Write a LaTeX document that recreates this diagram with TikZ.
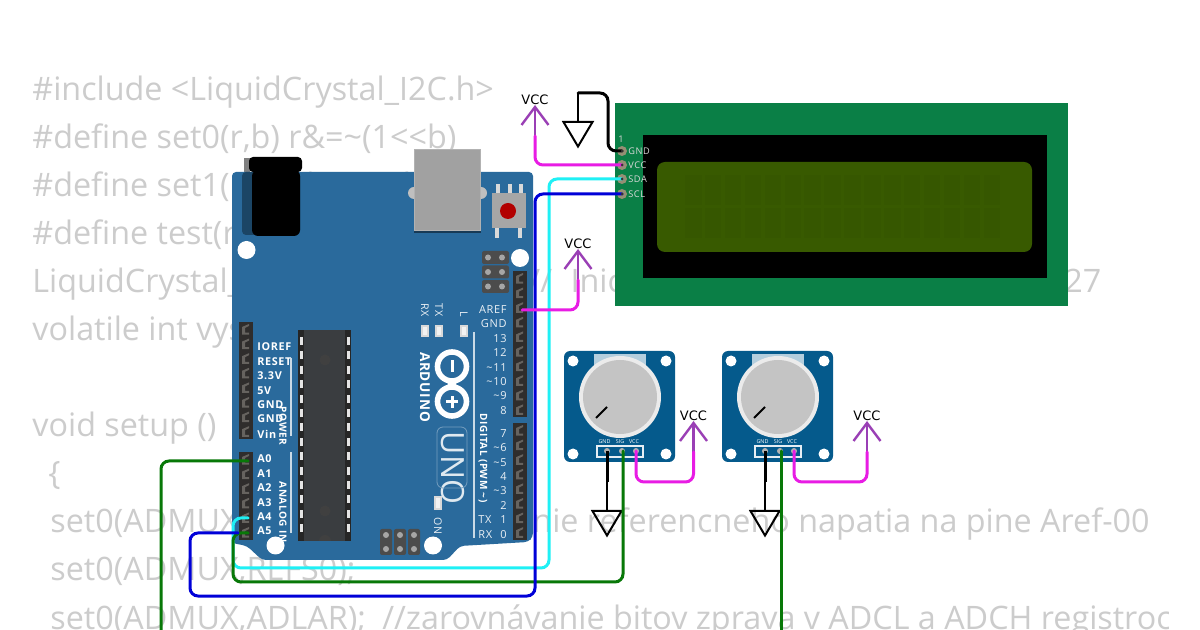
\documentclass[tikz,border=0pt]{standalone}
\usepackage{fontspec}
\newfontfamily\codefont{Open Sans}
\newfontfamily\pinfont[LetterSpace=6]{Open Sans}
\newfontfamily\vccfont{DejaVu Sans}
\definecolor{boardblue}{HTML}{2A6A9C}
\definecolor{potblue}{HTML}{055A8C}
\definecolor{lcdgreen}{HTML}{0A7F46}
\definecolor{lcdolive}{HTML}{385A00}
\definecolor{lcdcell}{HTML}{365700}
\definecolor{chipgrey}{HTML}{3A3D40}
\definecolor{headgrey}{HTML}{2F2D2C}
\definecolor{pinlight}{HTML}{66635F}
\definecolor{padtan}{HTML}{948F74}
\definecolor{wiremag}{HTML}{E81CE4}
\definecolor{wirecyan}{HTML}{1FF0F5}
\definecolor{wireblue}{HTML}{0000D8}
\definecolor{wiregreen}{HTML}{087808}
\definecolor{symbpurple}{HTML}{9A3FB5}
\tikzset{
	code/.style={anchor=base west,inner sep=0pt,text=black!20,font=\codefont\fontsize{16.15}{18}\selectfont},
	pinbold/.style={anchor=west,inner sep=0pt,text=white,font=\pinfont\bfseries\fontsize{5.4}{6}\selectfont},
	pinnum/.style={anchor=east,inner sep=0pt,text=white!90!boardblue,font=\pinfont\fontsize{5.5}{6}\selectfont},
	vertbold/.style={inner sep=0pt,rotate=-90,text=white,font=\pinfont\bfseries\fontsize{5}{6}\selectfont},
	vertthin/.style={inner sep=0pt,rotate=-90,text=white!90!boardblue,font=\pinfont\fontsize{5.3}{6}\selectfont},
	lcdpin/.style={anchor=west,inner sep=0pt,text=white!85!black,font=\pinfont\fontsize{4.6}{5}\selectfont},
	potpin/.style={inner sep=0pt,text=white,font=\codefont\fontsize{2.7}{3}\selectfont},
	vcctext/.style={inner sep=0pt,text=black,font=\vccfont\fontsize{6.5}{8}\selectfont},
	wire/.style={line width=1.5pt,rounded corners=4pt,line cap=round},
	symb/.style={line width=1.2pt,symbpurple,line join=miter},
	gndsym/.style={line width=1pt,black,line join=miter},
	led/.style={fill=white!85!black,draw=none}
}
\begin{document}
\begin{tikzpicture}[x=0.5pt,y=-0.5pt]
	\useasboundingbox (0,0) rectangle (1200,630);
	\fill [white] (0,0) rectangle (1200,630);

	% program text behind everything
	\begin{scope}
		\clip (0,0) rectangle (1168,630);
		\node [code] (L1) at (32,101) {\#include <LiquidCrystal\_I2C.h>};
		\node [code] (L2) at (32,149) {\#define set0(r,b) r\&=\textasciitilde(1<<b)};
		\node [code] (L3) at (32,197) {\#define set1(r,b) r|=(1<<b)};
		\node [code] (L4) at (32,245) {\#define test(r,b) r\&(1<<b)};
		\node [code] (L5) at (32,293) {LiquidCrystal\_I2C lcd(0x27,16,2);\hspace{3.5pt} //\hspace{5pt} Inic};
		\node [code] (L5b) at (1064,293) {27};
		\node [code] (L6) at (32,341) {volatile int vysledok;};
		\node [code] (L7) at (32,437) {void setup ()};
		\node [code] (L8) at (48,485) {\{};
		\node [code] (L9) at (50,533) {set0(ADMUX,REFS1);\hspace{14pt} //nastavenie referencneho napatia na pine Aref-00};
		\node [code] (L10) at (50,581) {set0(ADMUX,REFS0);};
		\node [code] (L11) at (50,629) {set0(ADMUX,ADLAR);\hspace{4pt} //zarovnávanie bitov zprava v ADCL a ADCH registroch};
	\end{scope}

	% arduino board
	\fill [gray] (244,158) rectangle (250,172);
	\fill [boardblue,rounded corners=2pt] (232,172) -- (533,172) -- (533,537) -- (528,542) -- (460,546) -- (447,560) -- (262,560) -- (247,546) -- (232,543) -- cycle;
	\fill [black!35!boardblue,rounded corners=2pt] (242,172) rectangle (300,235);
	\fill [black,rounded corners=2pt] (249,157) rectangle (302,172);
	\fill [black,rounded corners=3pt] (252,170) rectangle (300,236);

	\fill [black!25] (414,193) circle (6);
	\fill [black!25] (481,193) circle (6);
	\fill [black!45!boardblue] (414,230) rectangle (481,233);
	\fill [black!30] (414,149) rectangle (481,231);
	\fill [black!37] (415,150) rectangle (480,230);

	\foreach \lx in {498,509.5,521} \fill [white!85!black] (\lx-2,184) rectangle (\lx+2,193);
	\foreach \lx in {497,520} \fill [white!85!black] (\lx-2,228) rectangle (\lx+2,238);
	\fill [black!35] (492,193) rectangle (526,228);
	\fill [red!70!black] (508,211) circle (8);

	\foreach \hx/\hy in {246.5/250,520/258,275.5/545.5,433/545.5} \fill [white] (\hx,\hy) circle (9);

	% icsp pads
	\foreach \iy in {257.5,272,286.5} {
		\fill [black!70,rounded corners=1pt] (482,\iy-6.5) rectangle (509,\iy+6.5);
		\foreach \ix in {488,502} \fill [black!35] (\ix,\iy) circle (3);
	}
	\foreach \ix in {386,400,414} {
		\fill [black!70,rounded corners=1pt] (\ix-6,529) rectangle (\ix+6,555);
		\foreach \iy in {535,549} \fill [black!35] (\ix,\iy) circle (3);
	}

	% pin headers
	\foreach \hx/\hy/\hn in {513/271/10,513/423/8,239/322/8,239/452/6} {
		\fill [headgrey] (\hx,\hy) rectangle (\hx+14,\hy+\hn*14.6);
		\foreach \pn in {1,...,\hn} {
			\fill [pinlight] (\hx+3,\hy+\pn*14.6-9.6) -- (\hx+10,\hy+\pn*14.6-12.6) -- (\hx+10,\hy+\pn*14.6-10.6) -- (\hx+6,\hy+\pn*14.6-8.6) -- (\hx+6,\hy+\pn*14.6-4) -- (\hx+10,\hy+\pn*14.6-4) -- (\hx+10,\hy+\pn*14.6-2) -- (\hx+3,\hy+\pn*14.6-2) -- cycle;
		}
	}

	% chip
	\fill [black!85] (298,330) rectangle (351,541);
	\fill [chipgrey] (304,330) rectangle (345,541);
	\foreach \pn in {0,...,13} {
		\fill [white!90!black] (299.5,341+\pn*14.4-4) rectangle (302.5,341+\pn*14.4+4);
		\fill [white!90!black] (346.5,341+\pn*14.4-4) rectangle (349.5,341+\pn*14.4+4);
	}
	\fill [black!75] (325,360) circle (5.5);
	\fill [black!75] (325,511) circle (5.5);
	\fill [black!75] (319,541) arc [start angle=180,end angle=360,radius=6] -- cycle;

	% leds
	\foreach \lx in {425,439,464} {
		\fill [led] (\lx-4,325) rectangle (\lx+4,337);
		\fill [white!95!black] (\lx-2,327) rectangle (\lx+2,335);
	}
	\fill [led] (434,496) rectangle (442,510);
	\fill [white!95!black] (436,498) rectangle (440,508);

	% printing on the board
	\foreach \tn/\tx/\tl/\ty in {a/257/IOREF/347,b/257/RESET/362,c/257/3.3V/376,d/257/5V/391,e/257/GND/405,f/257/GND/419,g/257/Vin/434,h/257/A0/459,i/257/A1/474,j/257/A2/488,k/257/A3/503,l/257/A4/517,m/257/A5/531}
		\node [pinbold] (lab\tn) at (\tx,\ty) {\tl};
	\foreach \tn/\tl/\ty in {a/AREF/310,b/GND/324,c/13/339,d/12/353,e/\textasciitilde11/368,f/\textasciitilde10/382,g/\textasciitilde9/396,h/8/411,i/7/434,j/\textasciitilde6/448,k/\textasciitilde5/463,l/4/477,m/\textasciitilde3/491,n/2/506,o/1/520,p/0/535}
		\node [pinnum] (num\tn) at (507,\ty) {\tl};
	\node [pinnum,anchor=west] (labTX) at (478,520) {TX};
	\node [pinnum,anchor=west] (labRX) at (478,535) {RX};
	\node [vertthin] (ledRX) at (425,310) {RX};
	\node [vertthin] (ledTX) at (439,310) {TX};
	\node [vertthin] (ledL) at (464,314) {L};
	\node [vertthin] (ledON) at (438,526) {ON};
	\node [vertbold] (labPOWER) at (283,426) {POWER};
	\node [vertbold] (labANALOG) at (283,512) {ANALOG IN};
	\node [vertbold] (labDIGITAL) at (483,458) {DIGITAL (PWM \textasciitilde)};
	\node [vertbold,font=\pinfont\bfseries\fontsize{6.8}{8}\selectfont] (labARDUINO) at (425,387) {ARDUINO};
	\node [vertthin,font=\codefont\fontsize{16}{18}\selectfont,text=white!85!boardblue] (labUNO) at (453,468) {UNO};
	\draw [white!35!boardblue,line width=0.4pt,rounded corners=3pt] (437,427) rectangle (467,488);
	\draw [white!75!boardblue,line width=0.6pt] (291,358) -- (291,436) (291,452) -- (291,533) (474,332) -- (474,538);

	% logo
	\draw [white,line width=2.8pt] (452,366.5) circle (14.5);
	\draw [white,line width=2.8pt] (452,401.5) circle (14.5);
	\fill [white] (445,379) -- (459,379) -- (456,384) -- (459,389) -- (445,389) -- (448,384) -- cycle;
	\fill [white] (450.5,360) rectangle (453.5,372);
	\fill [white] (450.5,396) rectangle (453.5,408);
	\fill [white] (446,400) rectangle (458,403);

	% potentiometers
	\foreach \px/\pa in {0/a,158/b} {
		\begin{scope}[shift={(\px,0)}]
			\fill [potblue,rounded corners=3pt] (564,351) rectangle (675,462);
			\fill [white!70!potblue] (594,354) rectangle (646,375);
			\foreach \hx/\hy in {573/361,666/361,573/454,666/454} \fill [white] (\hx,\hy) circle (5.5);
			\fill [black!8] (620,397) circle (41);
			\fill [black!23] (620,397) circle (37);
			\draw [black,line width=1pt] (596,418) -- (607,407);
			\draw [white!90!potblue,line width=0.7pt] (597,446) rectangle (643,457);
			\foreach \gx in {607,622,636} \fill [black!30] (\gx,451) circle (3);
			\node [potpin] (pot\pa G) at (604.5,442) {GND};
			\node [potpin] (pot\pa S) at (620,442) {SIG};
			\node [potpin] (pot\pa V) at (634,442) {VCC};
			\coordinate (gnd\pa) at (607,451);
			\coordinate (vcc\pa) at (636,451);
			\coordinate (low\pa) at (693.5,482);
		\end{scope}
	}
	\coordinate (siga) at (623,451);
	\coordinate (sigb) at (781,451);
	\coordinate (lowb) at (867,482);

	% lcd
	\fill [lcdgreen] (615,103) rectangle (1068,306);
	\fill [black] (643,135) rectangle (1047,278);
	\fill [lcdolive,rounded corners=4pt] (657,162) rectangle (1032,252);
	\foreach \cn in {0,...,15} {
		\fill [lcdcell] (685+\cn*19.9,175) rectangle (701.5+\cn*19.9,205);
		\fill [lcdcell] (685+\cn*19.9,208) rectangle (701.5+\cn*19.9,238);
	}
	\foreach \pn/\py in {GND/151,VCC/165,SDA/179,SCL/194} {
		\fill [padtan] (622,\py) circle (5);
		\coordinate (lcd\pn) at (622,\py);
		\node [lcdpin] (txt\pn) at (628,\py) {\pn};
	}
	\node [lcdpin,anchor=center] (lcdone) at (621,139) {1};

	% vcc and gnd symbols
	\foreach \sn/\sx/\sy in {lcd/535/107,aref/578/251,pota/693.5/423,potb/867/423} {
		\node [vcctext] (V\sn) at (\sx,\sy-7.5) {VCC};
		\coordinate (apex\sn) at (\sx,\sy);
		\coordinate (foot\sn) at (\sx,\sy+29);
		\draw [symb] (\sx-13.5,\sy+18) -- (apex\sn) -- (\sx+13.5,\sy+18);
		\draw [symb] (apex\sn) -- (foot\sn);
	}
	\foreach \sn/\sx/\sy in {lcd/578/122,pota/607/511,potb/765/511} {
		\coordinate (gtop\sn) at (\sx,\sy-29);
		\coordinate (gsym\sn) at (\sx,\sy);
		\draw [gndsym] (gtop\sn) -- (gsym\sn);
		\draw [gndsym] (\sx-14.5,\sy) -- (\sx+14.5,\sy) -- (\sx,\sy+24.5) -- cycle;
	}

	% wires
	\coordinate (A0) at (248,461);
	\coordinate (A4) at (248,518);
	\coordinate (A5) at (248,533);
	\coordinate (A5b) at (238,533);
	\coordinate (AREF) at (522,310);
	\coordinate (A0end) at (161,630);
	\coordinate (sigbend) at (781,630);
	\coordinate (sda1) at (549,568);
	\coordinate (sda2) at (233,518);
	\coordinate (scl1) at (535,596);
	\coordinate (scl2) at (190,533);
	\coordinate (sig1) at (233,582);
	\coordinate (gndbend) at (608,93);

	\draw [wire,wirecyan] (lcdSDA) -| (sda1) -| (sda2) -- (A4);
	\draw [wire,wiregreen] (A0) -| (A0end);
	\draw [wire,wiregreen] (A5) -| (sig1) -| (siga);
	\draw [wire,wiregreen] (sigb) -- (sigbend);
	\draw [wire,wireblue] (lcdSCL) -| (scl1) -| (scl2) -- (A5b);
	\draw [wire,black] (lcdGND) -| (gndbend) -- (gtoplcd);
	\draw [wire,black,line cap=butt] (gnda) -- (gtoppota);
	\draw [wire,black,line cap=butt] (gndb) -- (gtoppotb);
	\draw [wire,wiremag] (lcdVCC) -| (footlcd);
	\draw [wire,wiremag] (AREF) -| (footaref);
	\draw [wire,wiremag] (vcca) |- (lowa) -- (footpota);
	\draw [wire,wiremag] (vccb) |- (lowb) -- (footpotb);
	\foreach \pn in {GND,VCC,SDA,SCL} \fill [black!80] (lcd\pn) circle (1.5);
\end{tikzpicture}
\end{document}
